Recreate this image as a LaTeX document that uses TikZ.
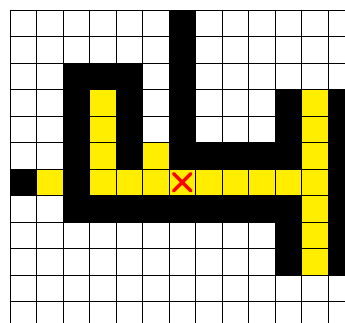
\documentclass[tikz,border=0pt]{standalone}
\definecolor{cellyellow}{RGB}{255,238,0}
\definecolor{xred}{RGB}{255,0,0}
\begin{document}
\begin{tikzpicture}[x=1cm,y=-1cm,
  wall/.style={fill=black},
  pathcell/.style={fill=cellyellow},
  gridline/.style={draw=black,line width=0.8pt},
  cross/.style={draw=xred,line width=3.5pt,line cap=round}]
\useasboundingbox (-0.377,-0.377) rectangle (12.64,11.81);
\clip (-0.377,-0.377) rectangle (12.64,11.81);
% walls (black cells)
\foreach \c/\r in {6/0,6/1,2/2,3/2,4/2,6/2,
  2/3,4/3,6/3,10/3,12/3,
  2/4,4/4,6/4,10/4,12/4,
  2/5,4/5,6/5,7/5,8/5,9/5,10/5,12/5,
  0/6,2/6,12/6,
  2/7,3/7,4/7,5/7,6/7,7/7,8/7,9/7,10/7,12/7,
  10/8,12/8,10/9,12/9}
  \path[wall] (\c,\r) rectangle ++(1,1);
% path (yellow cells)
\foreach \c/\r in {3/3,11/3,3/4,11/4,3/5,5/5,11/5,
  1/6,3/6,4/6,5/6,6/6,7/6,8/6,9/6,10/6,11/6,
  11/7,11/8,11/9}
  \path[pathcell] (\c,\r) rectangle ++(1,1);
% grid
\draw[gridline] (0,0) grid (13,12);
% marker
\draw[cross] (6.5,6.5) ++(-0.33,-0.33) -- ++(0.66,0.66);
\draw[cross] (6.5,6.5) ++(0.33,-0.33) -- ++(-0.66,0.66);
\end{tikzpicture}
\end{document}
